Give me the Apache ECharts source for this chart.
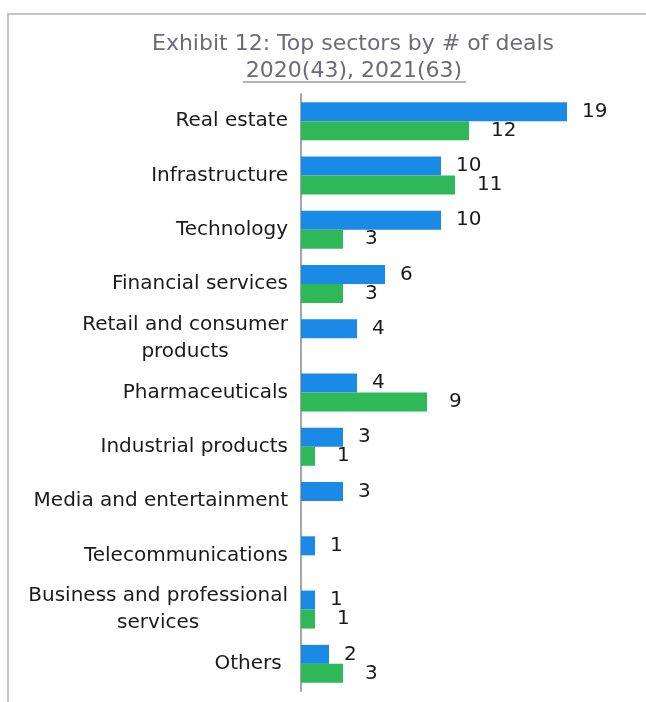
<!DOCTYPE html>
<html>
<head>
<meta charset="utf-8">
<style>
  html, body { margin: 0; padding: 0; background: #ffffff; }
  #chart { width: 646px; height: 702px; }
</style>
<script src="https://cdn.jsdelivr.net/npm/echarts@6/dist/echarts.min.js"></script>
</head>
<body>
<div id="chart"></div>
<script>
// Sector names (top to bottom)
const sectors = [
  'Real estate',
  'Infrastructure',
  'Technology',
  'Financial services',
  'Retail and consumer\nproducts',
  'Pharmaceuticals',
  'Industrial products',
  'Media and entertainment',
  'Telecommunications',
  'Business and professional\nservices',
  'Others '
];
// Number of deals per sector
const deals2020 = [19, 10, 10, 6, 4, 4, 3, 3, 1, 1, 2];
const deals2021 = [12, 11, 3, 3, null, 9, 1, null, null, 1, 3];

const titleText = 'Exhibit 12: Top sectors by # of deals';
const subtitleText = '2020(43), 2021(63)';

const baseFont = '"DejaVu Sans", Verdana, sans-serif';

const chart = echarts.init(document.getElementById('chart'), null, { renderer: 'canvas' });

function valueLabel(dist) {
  return {
    show: true,
    position: 'right',
    distance: dist,
    color: '#1a1a1a',
    fontFamily: baseFont,
    fontSize: 20
  };
}

chart.setOption({
  backgroundColor: '#ffffff',
  animation: false,
  graphic: [
    {
      type: 'polyline',
      shape: { points: [[8, 702], [8, 14], [646, 14]] },
      style: { stroke: '#c4c4c4', lineWidth: 2, fill: null }
    },
    {
      type: 'text',
      x: 353, y: 44,
      style: {
        text: titleText, fill: '#6b6b7a', font: '22px ' + baseFont,
        textAlign: 'center', textVerticalAlign: 'middle'
      }
    },
    {
      type: 'text',
      x: 354, y: 71,
      style: {
        text: subtitleText, fill: '#6b6b7a', font: '22px ' + baseFont,
        textAlign: 'center', textVerticalAlign: 'middle'
      }
    },
    {
      type: 'line',
      shape: { x1: 243, y1: 82, x2: 466, y2: 82 },
      style: { stroke: '#9a9aa6', lineWidth: 1.5 }
    }
  ],
  grid: { left: 301, top: 94, height: 597, width: 336, containLabel: false },
  xAxis: {
    type: 'value',
    min: 0,
    max: 24,
    show: false
  },
  yAxis: {
    type: 'category',
    data: sectors,
    inverse: true,
    axisLine: { show: true, lineStyle: { color: '#a6a6a6', width: 2 } },
    axisTick: { show: false },
    axisLabel: {
      margin: 13,
      align: 'right',
      formatter: function (v) {
        return v.split('\n').map(function (s) { return '{c|' + s + '}'; }).join('\n');
      },
      rich: {
        c: {
          align: 'center',
          color: '#1a1a1a',
          fontFamily: baseFont,
          fontSize: 20,
          lineHeight: 27
        }
      }
    }
  },
  series: [
    {
      name: '2020',
      type: 'bar',
      data: deals2020,
      itemStyle: { color: '#1a8ae6' },
      barGap: '0%',
      barCategoryGap: '30%',
      label: valueLabel(15)
    },
    {
      name: '2021',
      type: 'bar',
      data: deals2021,
      itemStyle: { color: '#2eb858' },
      barGap: '0%',
      barCategoryGap: '30%',
      label: valueLabel(22)
    }
  ]
});
</script>
</body>
</html>
